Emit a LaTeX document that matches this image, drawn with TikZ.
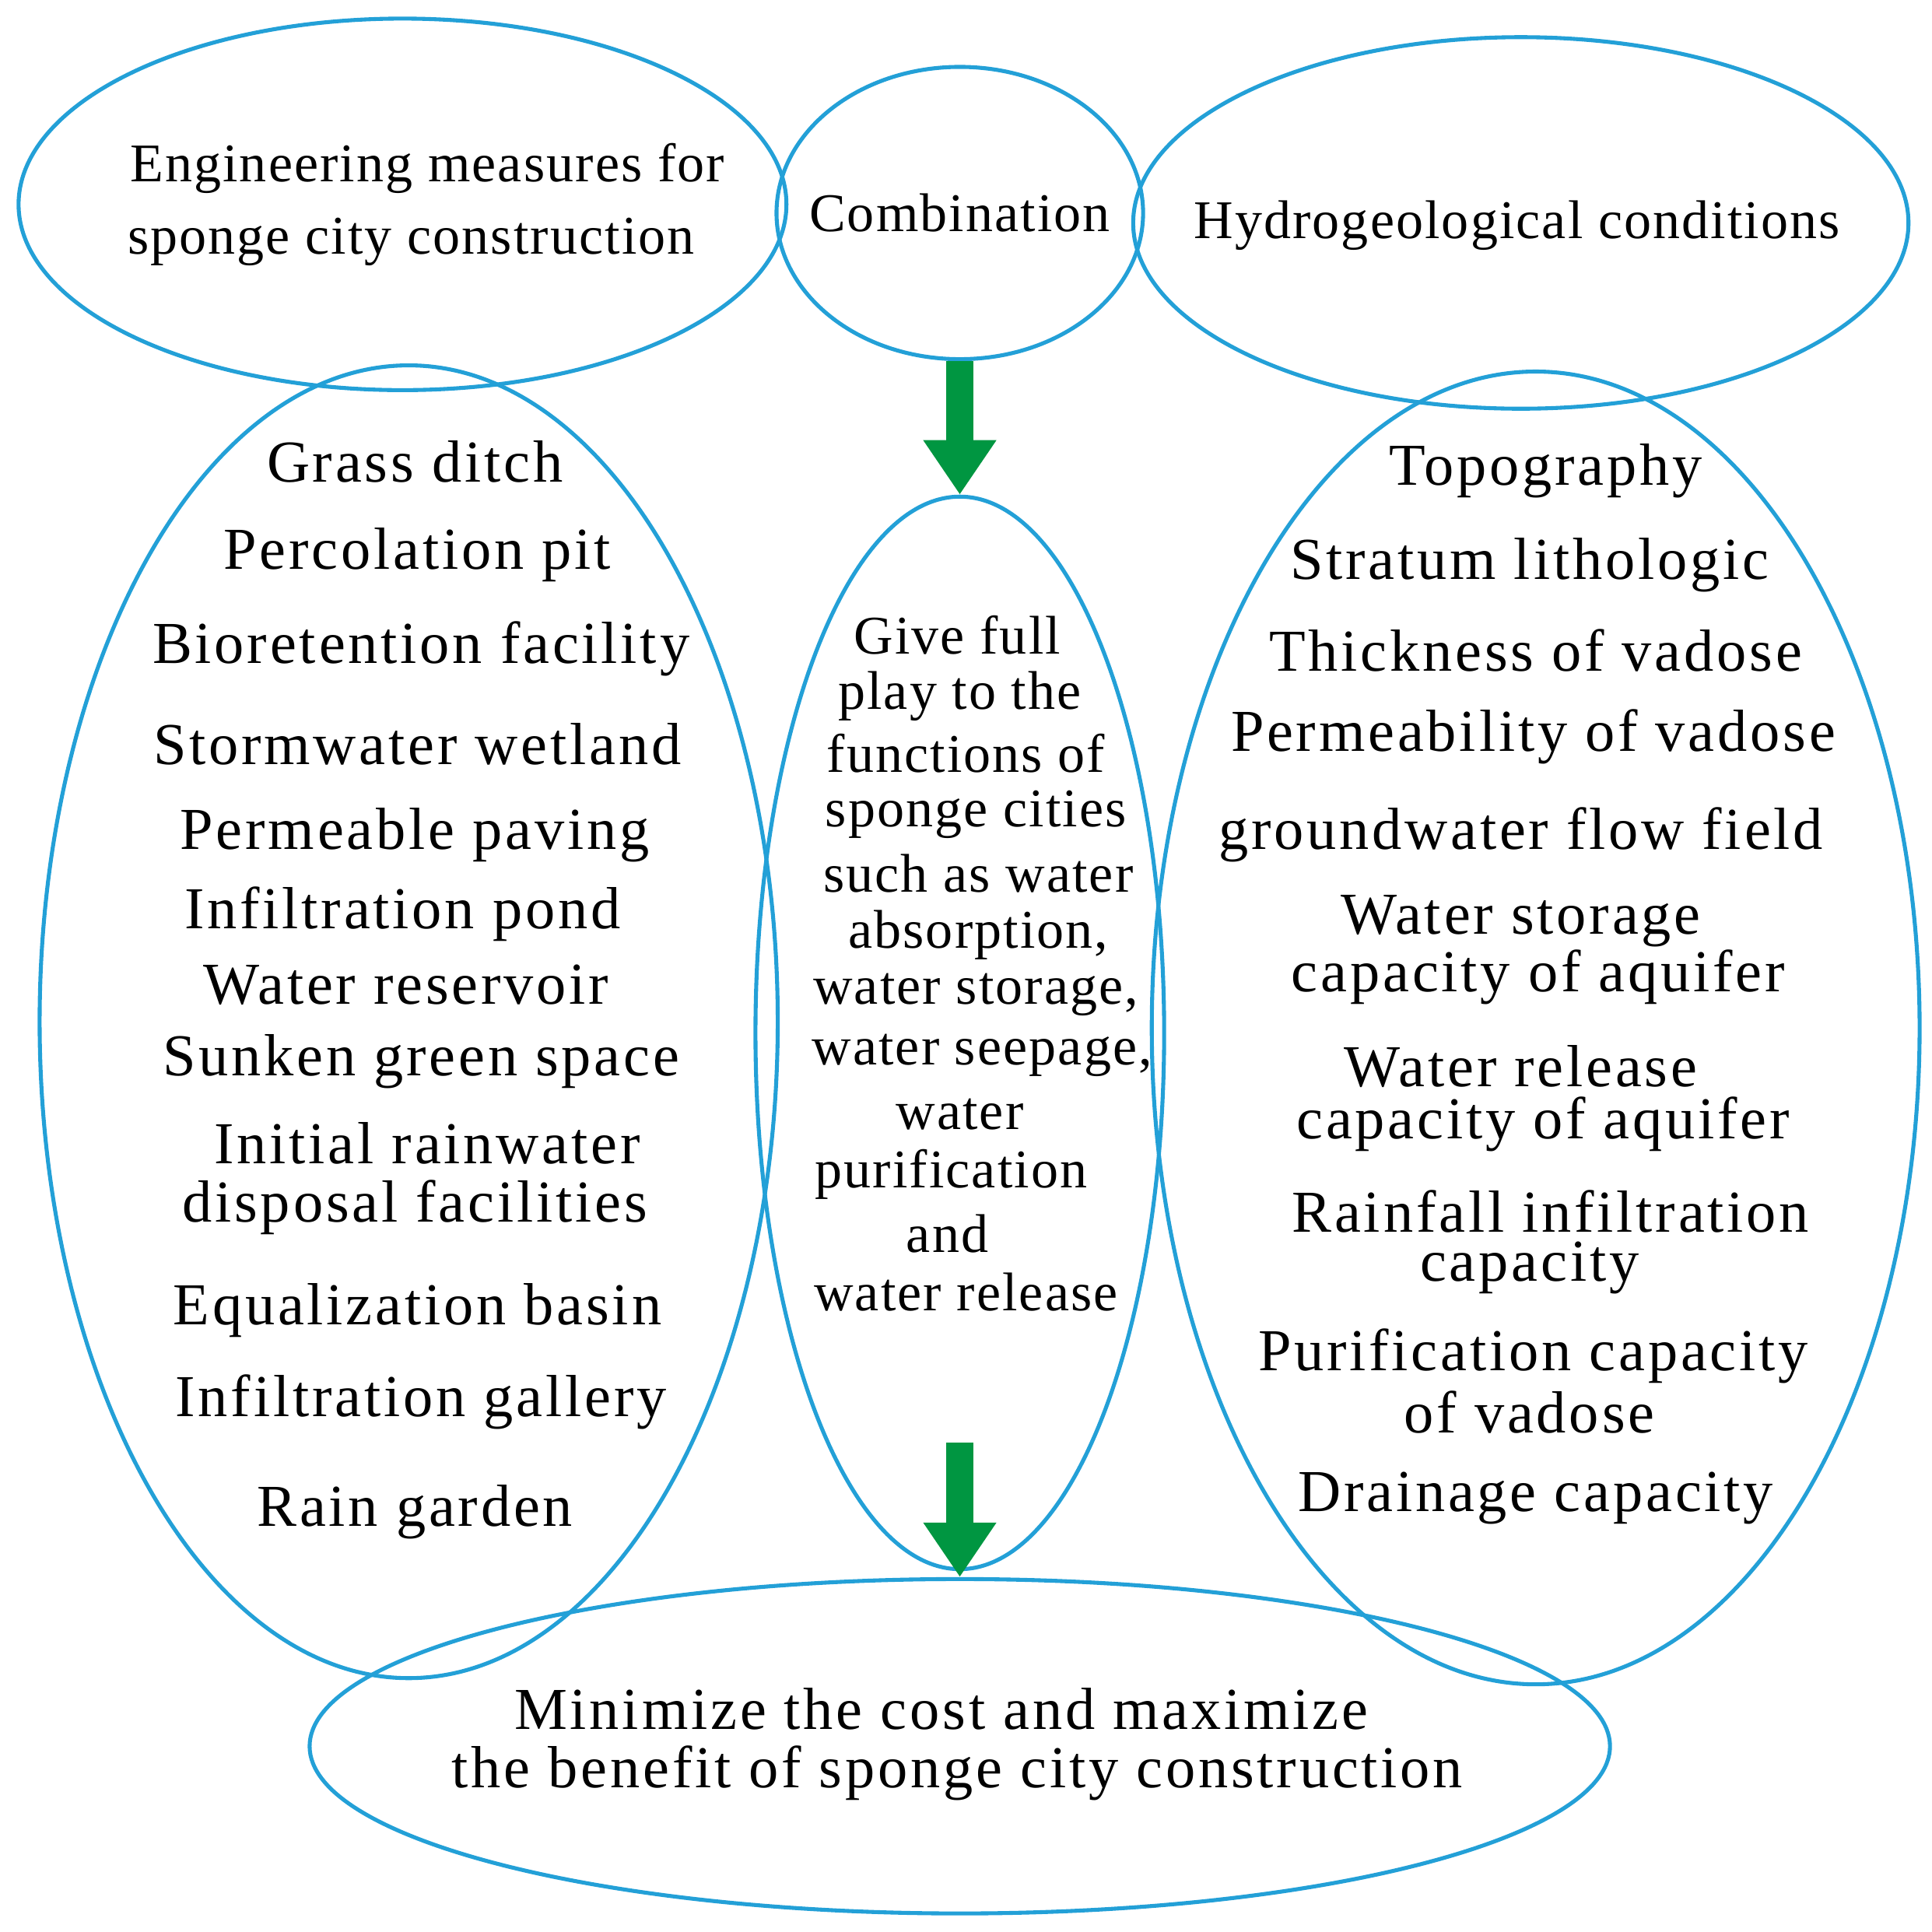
\documentclass[tikz,border=0pt]{standalone}
\usepackage{fontspec}
\setmainfont{Liberation Serif}
\usetikzlibrary{shapes.geometric,arrows.meta}
\definecolor{eblue}{RGB}{35,160,215}
\definecolor{agreen}{RGB}{0,150,65}
\begin{document}
\begin{tikzpicture}[x=0.5pt,y=-0.5pt,
  ell/.style={draw=eblue,line width=1.6pt,ellipse,inner sep=0pt},
  big/.style={font=\fontsize{24}{24}\selectfont\addfontfeatures{LetterSpace=5},inner sep=0pt},
  mid/.style={font=\fontsize{22}{22}\selectfont\addfontfeatures{LetterSpace=3},inner sep=0pt},
  arr/.style={draw=agreen,line width=11pt,-{Triangle[width=28pt,length=22pt]}}]
\useasboundingbox (0,0) rectangle (1560,1560);
\node[ell,minimum width=310pt,minimum height=150pt] (tl) at (325,165) {};
\node[ell,minimum width=148pt,minimum height=118pt] (comb) at (775,172) {};
\node[ell,minimum width=313pt,minimum height=150pt] (tr) at (1228,180) {};
\node[ell,minimum width=298pt,minimum height=530pt] (lb) at (330,825) {};
\node[ell,minimum width=165pt,minimum height=433pt] (md) at (775,834) {};
\node[ell,minimum width=310pt,minimum height=530pt] (rb) at (1240,830) {};
\node[ell,minimum width=525pt,minimum height=135pt] (bt) at (775,1410) {};
\coordinate (a2s) at (775,1165);
\draw[arr] (comb.south) -- (md.north);
\draw[arr] (a2s) -- (bt.north);
\node[mid] (t1) at (345,136) {Engineering measures for};
\node[mid] (t2) at (332,195) {sponge city construction};
\node[mid] (t3) at (775,172) {Combination};
\node[mid] (t4) at (1225,182) {Hydrogeological conditions};
\foreach \t/\x/\y [count=\i] in {Grass ditch/335/373,Percolation pit/337/448,Bioretention facility/340/524,Stormwater wetland/337/601,Permeable paving/335/674,Infiltration pond/325/738,Water reservoir/328/795,Sunken green space/340/857,Initial rainwater/345/923,disposal facilities/335/975,Equalization basin/337/1058,Infiltration gallery/340/1132,Rain garden/335/1221}
  \node[big] (l\i) at (\x,\y) {\t};
\foreach \t/\x/\y [count=\i] in {Topography/1248/380,Stratum lithologic/1235/456,Thickness of vadose/1240/525,Permeability of vadose/1238/595,groundwater flow field/1228/674,Water storage/1228/744,capacity of aquifer/1242/789,Water release/1228/861,capacity of aquifer/1246/908,Rainfall infiltration/1252/978,capacity/1235/1024,Purification capacity/1238/1095,of vadose/1235/1140,Drainage capacity/1240/1210}
  \node[big] (r\i) at (\x,\y) {\t};
\foreach \t/\x/\y [count=\i] in {Give full/773/513,play to the/775/562,functions of/780/608,sponge cities/788/658,such as water/790/705,{absorption,}/790/755,{water storage,}/788/803,{water seepage,}/793/852,water/775/900,purification/768/948,and/765/996,water release/780/1043}
  \node[mid] (m\i) at (\x,\y) {\t};
\node[big] (b1) at (760,1380) {Minimize the cost and maximize};
\node[big] (b2) at (773,1432) {the benefit of sponge city construction};
\end{tikzpicture}
\end{document}
